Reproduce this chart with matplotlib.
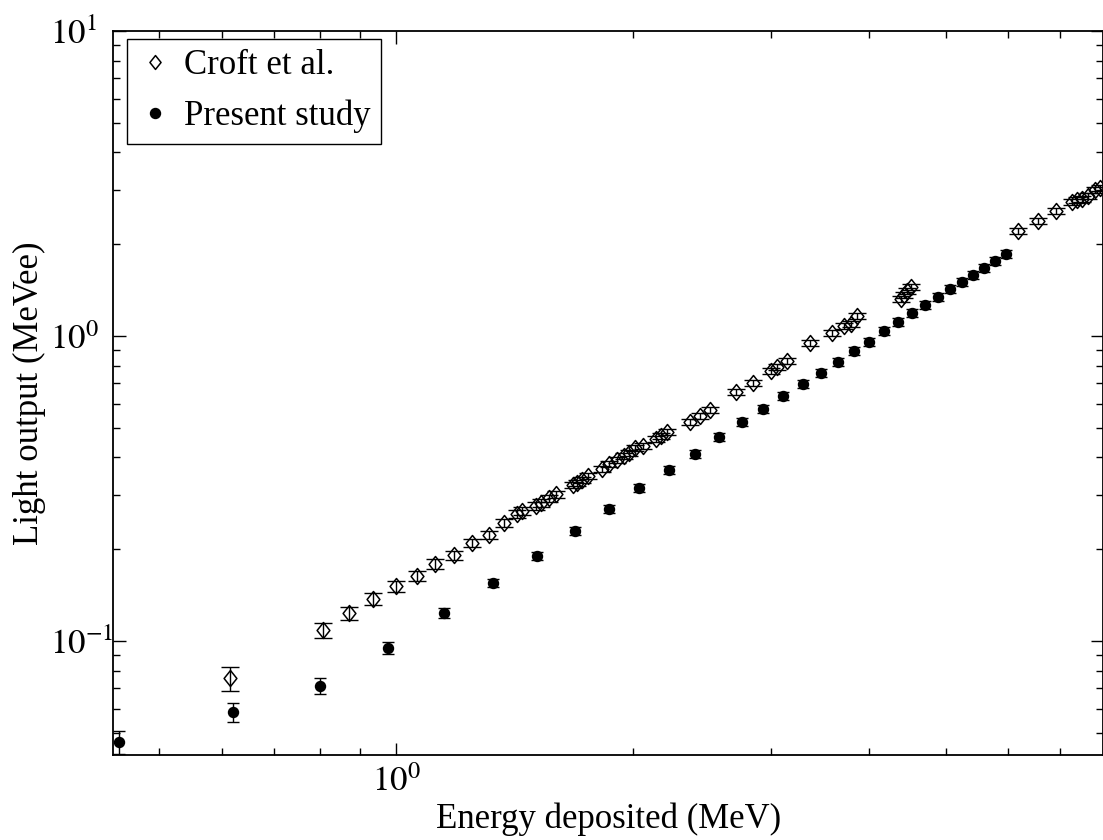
import matplotlib
matplotlib.use("Agg")
import matplotlib.pyplot as plt
from matplotlib.lines import Line2D
from matplotlib.path import Path
from matplotlib.ticker import NullFormatter

plt.rcParams['font.family'] = ['Liberation Serif', 'DejaVu Serif']
plt.rcParams['mathtext.fontset'] = 'stix'

# ---- data ----
croft_x = [0.615, 0.807, 0.871, 0.935, 1.000, 1.063, 1.121, 1.185, 1.249, 1.313,
           1.372, 1.425, 1.445, 1.507, 1.529, 1.566, 1.598, 1.680, 1.699, 1.724,
           1.755, 1.828, 1.866, 1.910, 1.950, 1.979, 2.014, 2.062, 2.142, 2.174,
           2.212, 2.366, 2.437, 2.508, 2.708, 2.846, 3.000, 3.053, 3.144, 3.364,
           3.587, 3.715, 3.792, 3.859, 4.390, 4.429, 4.468, 4.521, 6.183, 6.559,
           6.915, 7.245, 7.352, 7.461, 7.590, 7.750, 7.860]
croft_y = [0.0756, 0.1087, 0.1235, 0.1373, 0.1515, 0.1633, 0.1788, 0.1914, 0.2096, 0.2226,
           0.2436, 0.2609, 0.2668, 0.2771, 0.2835, 0.2944, 0.3034, 0.3247, 0.3296, 0.3372,
           0.3475, 0.3664, 0.3805, 0.3921, 0.4042, 0.4134, 0.4293, 0.4358, 0.4595, 0.4700,
           0.4844, 0.5224, 0.5466, 0.5719, 0.6551, 0.7012, 0.7677, 0.7913, 0.8279, 0.9484,
           1.023, 1.078, 1.095, 1.163, 1.322, 1.363, 1.405, 1.448, 2.210, 2.383,
           2.570, 2.750, 2.792, 2.814, 2.877, 3.011, 3.056]
croft_err = [0.0068, 0.0063, 0.0062, 0.0062, 0.0063, 0.0064, 0.0065, 0.0066, 0.0068, 0.0069,
             0.0071, 0.0073, 0.0074, 0.0075, 0.0076, 0.0078, 0.0079, 0.0082, 0.0083, 0.0084,
             0.0086, 0.0089, 0.0091, 0.0093, 0.0095, 0.0097, 0.0100, 0.0101, 0.0105, 0.0107,
             0.0110, 0.0117, 0.0121, 0.0126, 0.0141, 0.0150, 0.0162, 0.0167, 0.0174, 0.0196,
             0.021, 0.022, 0.0225, 0.0238, 0.027, 0.028, 0.0285, 0.029, 0.044, 0.047,
             0.051, 0.054, 0.055, 0.056, 0.057, 0.059, 0.060]

present_x = [0.444, 0.620, 0.800, 0.977, 1.151, 1.328, 1.512, 1.690, 1.866, 2.038,
             2.225, 2.401, 2.575, 2.755, 2.930, 3.107, 3.295, 3.474, 3.651, 3.825,
             3.998, 4.178, 4.352, 4.534, 4.710, 4.894, 5.070, 5.250, 5.420, 5.600,
             5.780, 5.970]
present_y = [0.0467, 0.0585, 0.0712, 0.0948, 0.1236, 0.155, 0.190, 0.2296, 0.271, 0.3175,
             0.364, 0.410, 0.4667, 0.5224, 0.5764, 0.6358, 0.696, 0.756, 0.822, 0.893,
             0.956, 1.038, 1.111, 1.190, 1.264, 1.342, 1.426, 1.503, 1.585, 1.671,
             1.762, 1.857]
present_err = [0.0040, 0.0043, 0.0042, 0.0044, 0.0045, 0.0052, 0.0062, 0.0074, 0.0087, 0.0101,
               0.0115, 0.0129, 0.0146, 0.0163, 0.0180, 0.0198, 0.0216, 0.0234, 0.0254, 0.0276,
               0.0295, 0.032, 0.034, 0.037, 0.039, 0.041, 0.044, 0.046, 0.049, 0.051,
               0.054, 0.057]

labels = ["Croft et al.", "Present study"]
xlabel = "Energy deposited (MeV)"
ylabel = "Light output (MeVee)"
xticks = [1.0]
xticklabels = [r"$10^{0}$"]
yticks = [0.1, 1.0, 10.0]
yticklabels = [r"$10^{-1}$", r"$10^{0}$", r"$10^{1}$"]

# MATLAB-like diamond (slightly taller than wide)
diamond = Path([(0, 1), (0.8, 0), (0, -1), (-0.8, 0), (0, 1)],
               [Path.MOVETO, Path.LINETO, Path.LINETO, Path.LINETO, Path.CLOSEPOLY])

# ---- figure ----
fig = plt.figure(figsize=(11.03, 8.40), dpi=100)
ax = fig.add_axes([113/1103, 1 - 755/840, (1103.5 - 113)/1103, (755 - 31)/840])

ax.errorbar(croft_x, croft_y, yerr=croft_err, fmt='none', ecolor='black',
            elinewidth=1.0, capsize=6.5, capthick=1.0, zorder=3)
ax.plot(croft_x, croft_y, ls='none', marker=diamond, mfc='none', mec='black',
        mew=1.1, ms=11.5, zorder=4)
ax.errorbar(present_x, present_y, yerr=present_err, fmt='o', mfc='black', mec='black',
            ms=7.2, ecolor='black', elinewidth=1.0, capsize=4.5, capthick=1.0,
            color='black', zorder=3)

ax.set_xscale('log')
ax.set_yscale('log')
ax.set_xlim(0.4365, 7.94)
ax.set_ylim(0.0423, 10)

ax.set_xticks(xticks)
ax.set_xticklabels(xticklabels)
ax.set_yticks(yticks)
ax.set_yticklabels(yticklabels)
ax.xaxis.set_minor_formatter(NullFormatter())
ax.yaxis.set_minor_formatter(NullFormatter())
ax.tick_params(which='both', direction='in', top=True, right=True, width=1.0)
ax.tick_params(which='major', length=9, labelsize=25)
ax.tick_params(which='minor', length=5)
ax.tick_params(axis='x', which='major', pad=8)
ax.tick_params(axis='y', which='major', pad=45)
for t in ax.get_yticklabels():
    t.set_horizontalalignment('left')
for s in ax.spines.values():
    s.set_linewidth(1.3)

ax.set_xlabel(xlabel, fontsize=25)
ax.set_ylabel(ylabel, fontsize=25)
ax.yaxis.set_label_coords(-67/990, 0.5)
ax.xaxis.set_label_coords(0.5, -47/724)

handles = [Line2D([], [], ls='none', marker=diamond, mfc='none', mec='black', mew=1.1, ms=10),
           Line2D([], [], ls='none', marker='o', mfc='black', mec='black', ms=7.2)]
leg = ax.legend(handles, labels, loc='upper left', bbox_to_anchor=(14/990, 1 - 8/724),
                borderaxespad=0, fontsize=25, frameon=True, fancybox=False,
                edgecolor='black', framealpha=1, borderpad=0.3, handlelength=1.0,
                handletextpad=0.35, labelspacing=0.5)
leg.get_frame().set_linewidth(1.0)

fig.savefig("out.png", dpi=100)
